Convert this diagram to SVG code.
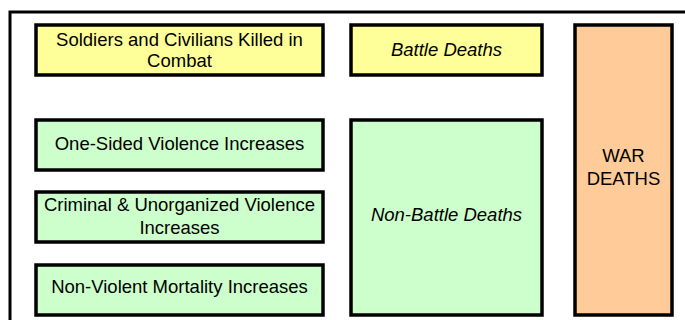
<svg xmlns="http://www.w3.org/2000/svg" width="685" height="320" viewBox="0 0 685 320">
<style>
.box{stroke:#000;stroke-width:3.5}
.y{fill:#FFFF99}.g{fill:#CCFFCC}.o{fill:#FFCC99}
text{font-family:"Liberation Sans",Arial,sans-serif;font-size:18.5px;fill:#000;text-anchor:middle}
.i{font-style:italic}
</style>
<rect x="0" y="0" width="685" height="320" fill="#fff"/>
<path d="M10 322 V12 H690" fill="none" stroke="#000" stroke-width="3"/>
<g id="soldiers"><rect class="box y" x="36" y="25" width="287" height="50"/><text x="179.5" y="46">Soldiers and Civilians Killed in</text><text x="179.5" y="66.5">Combat</text></g>
<g id="battle"><rect class="box y" x="351" y="25" width="191" height="50"/><text class="i" x="446.5" y="55.5">Battle Deaths</text></g>
<g id="onesided"><rect class="box g" x="36" y="120" width="287" height="50"/><text x="179.5" y="150">One-Sided Violence Increases</text></g>
<g id="criminal"><rect class="box g" x="36" y="192" width="287" height="50"/><text x="179.5" y="211">Criminal &amp; Unorganized Violence</text><text x="179.5" y="234">Increases</text></g>
<g id="nonviolent"><rect class="box g" x="36" y="265" width="287" height="50"/><text x="179.5" y="293">Non-Violent Mortality Increases</text></g>
<g id="nonbattle"><rect class="box g" x="351" y="120" width="191" height="195"/><text class="i" x="446.5" y="220.5">Non-Battle Deaths</text></g>
<g id="war"><rect class="box o" x="575" y="25" width="97" height="290"/><text x="623.5" y="162">WAR</text><text x="623.5" y="185">DEATHS</text></g>
<g id="connectors"></g>
</svg>
